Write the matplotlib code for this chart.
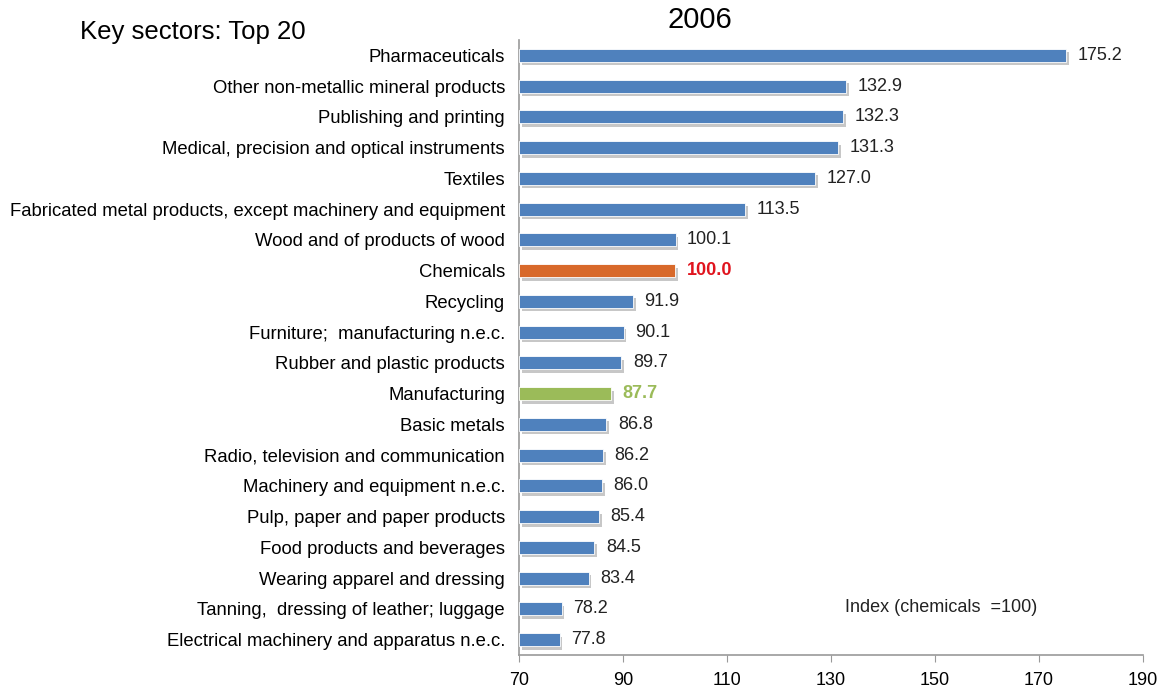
import matplotlib
matplotlib.use("Agg")
import matplotlib.pyplot as plt
import matplotlib.patheffects as pe

plt.rcParams['font.family'] = ['Liberation Sans', 'DejaVu Sans']

categories = [
    "Pharmaceuticals",
    "Other non-metallic mineral products",
    "Publishing and printing",
    "Medical, precision and optical instruments",
    "Textiles",
    "Fabricated metal products, except machinery and equipment",
    "Wood and of products of wood",
    "Chemicals",
    "Recycling",
    "Furniture;  manufacturing n.e.c.",
    "Rubber and plastic products",
    "Manufacturing",
    "Basic metals",
    "Radio, television and communication",
    "Machinery and equipment n.e.c.",
    "Pulp, paper and paper products",
    "Food products and beverages",
    "Wearing apparel and dressing",
    "Tanning,  dressing of leather; luggage",
    "Electrical machinery and apparatus n.e.c.",
]
values = [175.2, 132.9, 132.3, 131.3, 127.0, 113.5, 100.1, 100.0, 91.9, 90.1,
          89.7, 87.7, 86.8, 86.2, 86.0, 85.4, 84.5, 83.4, 78.2, 77.8]
xticks = [70, 90, 110, 130, 150, 170, 190]

BLUE = "#4F81BD"
ORANGE = "#D8692A"
GREEN = "#9BBB59"

fig = plt.figure(figsize=(11.63, 6.90), dpi=100)
ax = fig.add_axes([519/1163, 1-655/690, (1143-519)/1163, (655-40)/690])

base = 70
n = len(categories)
ypos = list(range(n))
colors = []
lblcolors = []
weights = []
for c in categories:
    if c == "Chemicals":
        colors.append(ORANGE); lblcolors.append("#E0141E"); weights.append("bold")
    elif c == "Manufacturing":
        colors.append(GREEN); lblcolors.append(GREEN); weights.append("bold")
    else:
        colors.append(BLUE); lblcolors.append("#222222"); weights.append("normal")

bars = ax.barh(ypos, [v - base for v in values], left=base, height=0.42,
               color=colors, edgecolor="white", linewidth=0.6, zorder=3)
for b in bars:
    b.set_path_effects([pe.SimplePatchShadow(offset=(2, -2.5), shadow_rgbFace="#9a9a9a", alpha=0.55),
                        pe.Normal()])

for y, v, lc, w in zip(ypos, values, lblcolors, weights):
    ax.text(v + 2.2, y, f"{v:.1f}", va="center", ha="left", fontsize=13,
            color=lc, fontweight=w)

ax.set_xlim(70, 190)
ax.set_ylim(n - 0.5, -0.5)
ax.set_xticks(xticks)
ax.set_xticklabels([str(t) for t in xticks], fontsize=13)
ax.set_yticks(ypos)
ax.set_yticklabels(categories, fontsize=13.3)
ax.tick_params(axis="y", length=0, pad=10)
ax.tick_params(axis="x", length=5, color="#999999", pad=7, direction="out")
for s in ["top", "right"]:
    ax.spines[s].set_visible(False)
for s in ["left", "bottom"]:
    ax.spines[s].set_color("#999999")
    ax.spines[s].set_linewidth(1.2)

fig.text(700/1163, 1-20/690, "2006", ha="center", va="center", fontsize=21)
fig.text(80/1163, 1-32/690, "Key sectors: Top 20", ha="left", va="center", fontsize=18.5)
fig.text(845/1163, 1-607/690, "Index (chemicals  =100)", ha="left", va="center",
         fontsize=13, color="#222222")

fig.savefig("out.png", dpi=100)
